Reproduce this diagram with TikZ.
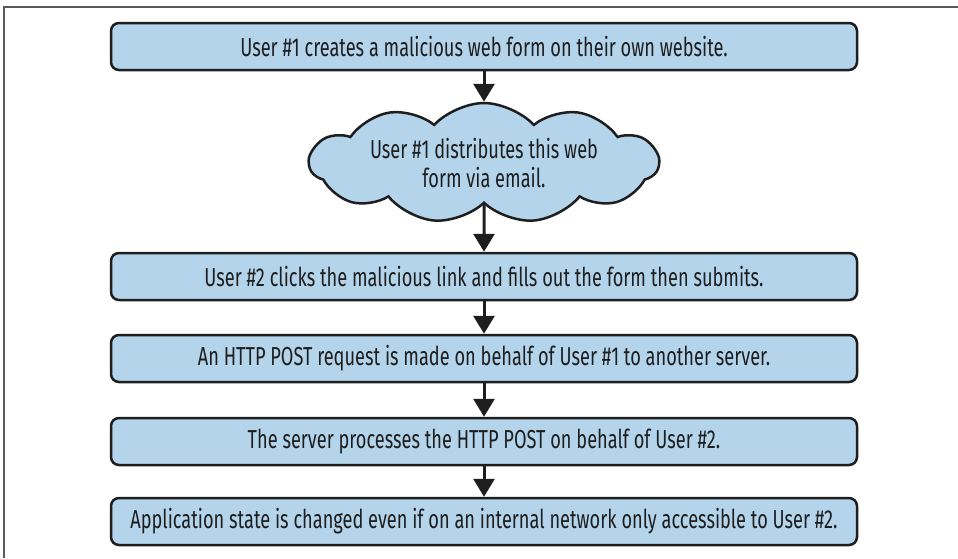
\documentclass[tikz,border=0pt]{standalone}
\usepackage{fontspec}
\setmainfont{Fira Sans}[FakeStretch=0.7]
\usepackage{tikz}
\usepackage{xcolor}
\usetikzlibrary{arrows.meta, shapes.symbols}
\definecolor{boxblue}{RGB}{179,212,234}
\definecolor{inkdark}{RGB}{30,30,30}
\definecolor{framegray}{RGB}{90,90,90}
\tikzstyle{stepbox}=[rectangle, rounded corners=8pt, draw=inkdark,
  line width=2.5pt, fill=boxblue, font=\fontsize{26}{30}\selectfont,
  text=inkdark, align=center, minimum width=746pt, minimum height=47pt,
  inner sep=0pt]
\tikzstyle{cloudbox}=[cloud, cloud puffs=11, cloud puff arc=95,
  cloud ignores aspect, draw=inkdark, line width=2.5pt, fill=boxblue,
  font=\fontsize{26}{29}\selectfont, text=inkdark, align=center,
  minimum width=349pt, minimum height=120pt, inner xsep=0pt,
  inner ysep=-18pt]
\tikzstyle{darr}=[-{Triangle[length=18pt, width=21pt]}, line width=3pt,
  color=inkdark]

\begin{document}
\begin{tikzpicture}[x=1pt, y=-1pt]
        \useasboundingbox (0,0) rectangle (958,558);
        \draw[framegray, line width=1.5pt] (4,558) -- (4,7) -- (958,7);
        \node[stepbox] (s1) at (484,46.5)
          {User \#1 creates a malicious web form on their own website.};
        \node[cloudbox] (s2) at (484,163)
          {User \#1 distributes this web\\form via email.};
        \node[stepbox] (s3) at (484,276.5)
          {User \#2 clicks the malicious link and fills out the form then submits.};
        \node[stepbox] (s4) at (484,358.5)
          {An HTTP POST request is made on behalf of User \#1 to another server.};
        \node[stepbox] (s5) at (484,441.5)
          {The server processes the HTTP POST on behalf of User \#2.};
        \node[stepbox] (s6) at (484,521.5)
          {Application state is changed even if on an internal network only accessible to User \#2.};
        \draw[darr] (s1)--(s2);
        \draw[darr] (s2)--(s3);
        \draw[darr] (s3)--(s4);
        \draw[darr] (s4)--(s5);
        \draw[darr] (s5)--(s6);
      \end{tikzpicture}
\end{document}
